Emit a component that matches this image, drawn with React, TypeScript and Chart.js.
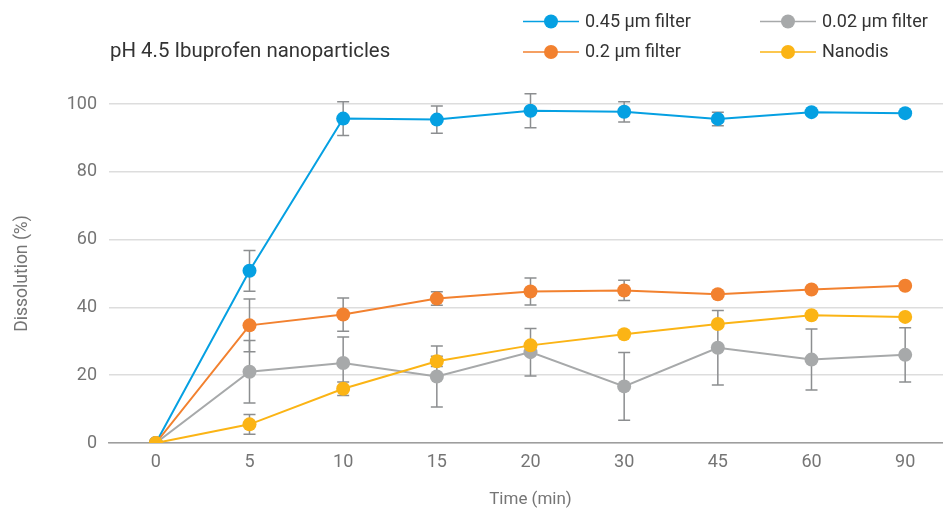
import React, { useEffect, useRef } from "react";
import { Chart, registerables } from "chart.js";

Chart.register(...registerables);

const chartTitle = "pH 4.5 Ibuprofen nanoparticles";
const xTitle = "Time (min)";
const yTitle = "Dissolution (%)";

const timeLabels = ["0", "5", "10", "15", "20", "30", "45", "60", "90"];

const seriesNames = ["0.45 µm filter", "0.2 µm filter", "0.02 µm filter", "Nanodis"];
const seriesColors = ["#05A0E2", "#F2812F", "#A7A9AA", "#FBB415"];

const filter045 = [0, 50.8, 95.7, 95.4, 98.0, 97.7, 95.6, 97.6, 97.3];
const filter02 = [0, 34.7, 37.9, 42.6, 44.7, 45.0, 43.9, 45.3, 46.4];
const filter002 = [0, 21.0, 23.6, 19.6, 26.8, 16.7, 28.1, 24.6, 26.0];
const nanodis = [0, 5.5, 16.0, 24.1, 28.8, 32.1, 35.1, 37.7, 37.2];

const err045 = [0, 6, 5, 4, 5, 3, 2, 0, 0];
const err02 = [0, 7.8, 4.9, 2, 4, 3, 0, 0, 0];
const err002 = [0, 9.2, 7.7, 9, 7, 10, 11, 9, 8];
const err_nanodis = [0, 2.9, 2, 1.5, 0, 0, 0, 0, 0];

const seriesValues = [filter045, filter02, filter002, nanodis];
const seriesErrors = [err045, err02, err002, err_nanodis];
const drawOrder = [3, 2, 1, 0];

const FONT = "Roboto, 'Noto Sans', sans-serif";

const errorBarPlugin = {
  id: "errorBars",
  beforeDatasetsDraw(chart: any) {
    const ctx = chart.ctx;
    const yScale = chart.scales.y;
    ctx.save();
    ctx.strokeStyle = "#8C8E90";
    ctx.lineWidth = 1.5;
    chart.data.datasets.forEach((ds: any, i: number) => {
      const meta = chart.getDatasetMeta(i);
      const errs = seriesErrors[i];
      meta.data.forEach((pt: any, j: number) => {
        const e = errs[j];
        if (!e) return;
        const v = ds.data[j];
        const x = pt.x;
        const yT = yScale.getPixelForValue(v + e);
        const yB = yScale.getPixelForValue(v - e);
        ctx.beginPath();
        ctx.moveTo(x, yT);
        ctx.lineTo(x, yB);
        ctx.moveTo(x - 6, yT);
        ctx.lineTo(x + 6, yT);
        ctx.moveTo(x - 6, yB);
        ctx.lineTo(x + 6, yB);
        ctx.stroke();
      });
    });
    ctx.restore();
  },
};

const headerPlugin = {
  id: "header",
  afterDraw(chart: any) {
    const ctx = chart.ctx;
    ctx.save();
    ctx.fillStyle = "#333333";
    ctx.font = `20.4px ${FONT}`;
    ctx.textAlign = "left";
    ctx.textBaseline = "middle";
    ctx.fillText(chartTitle, chart.chartArea.left + 1, 51.5);

    const colX = [523, 760];
    const rowY = [21.5, 52];
    const lineLen = 56;
    seriesNames.forEach((name, i) => {
      const col = Math.floor(i / 2);
      const row = i % 2;
      const x = colX[col];
      const y = rowY[row];
      ctx.strokeStyle = seriesColors[i];
      ctx.lineWidth = 1.5;
      ctx.beginPath();
      ctx.moveTo(x, y);
      ctx.lineTo(x + lineLen, y);
      ctx.stroke();
      ctx.fillStyle = seriesColors[i];
      ctx.beginPath();
      ctx.arc(x + lineLen / 2, y, 7, 0, Math.PI * 2);
      ctx.fill();
      ctx.fillStyle = "#333333";
      ctx.font = `18px ${FONT}`;
      ctx.textAlign = "left";
      ctx.textBaseline = "middle";
      ctx.fillText(name, x + lineLen + 6, y + 0.5);
    });
    ctx.restore();
  },
};

export default function App() {
  const ref = useRef<HTMLCanvasElement>(null);

  useEffect(() => {
    if (!ref.current) return;
    const chart = new Chart(ref.current, {
      type: "line",
      data: {
        labels: timeLabels,
        datasets: seriesNames.map((name, i) => ({
          label: name,
          data: seriesValues[i],
          borderColor: seriesColors[i],
          backgroundColor: seriesColors[i],
          pointBackgroundColor: seriesColors[i],
          pointBorderWidth: 0,
          pointRadius: 7,
          borderWidth: 2,
          tension: 0,
          fill: false,
          order: drawOrder[i],
        })),
      },
      options: {
        responsive: false,
        animation: false,
        layout: { padding: { top: 104, right: 0, left: 0, bottom: 0 } },
        plugins: {
          legend: { display: false },
          title: { display: false },
          tooltip: { enabled: false },
        },
        scales: {
          x: {
            type: "category",
            offset: true,
            grid: { display: false, drawTicks: false },
            border: { display: true, color: "#9E9E9E", width: 1.5 },
            ticks: {
              color: "#757575",
              font: { family: FONT, size: 18 },
              padding: 9,
              maxRotation: 0,
            },
            title: {
              display: true,
              text: xTitle,
              color: "#757575",
              font: { family: FONT, size: 17 },
              padding: { top: 0, bottom: 0 },
            },
            afterFit: (s: any) => {
              s.height = 67;
            },
          },
          y: {
            min: 0,
            max: 100,
            ticks: {
              stepSize: 20,
              color: "#757575",
              font: { family: FONT, size: 18 },
              padding: 12,
            },
            grid: { color: "#DDDDDD", lineWidth: 1.5, drawTicks: false },
            border: { display: false },
            title: {
              display: true,
              text: yTitle,
              color: "#757575",
              font: { family: FONT, size: 17.5 },
              padding: { top: 12, bottom: 0 },
            },
            afterFit: (s: any) => {
              s.width = 109;
            },
          },
        },
      },
      plugins: [errorBarPlugin, headerPlugin],
    });
    return () => chart.destroy();
  }, []);

  return (
    <div
      style={{
        position: "fixed",
        left: 0,
        top: 0,
        width: 943,
        height: 510,
        overflow: "hidden",
        background: "#ffffff",
      }}
    >
      <canvas ref={ref} width={959} height={510} style={{ width: 959, height: 510, display: "block" }} />
    </div>
  );
}
